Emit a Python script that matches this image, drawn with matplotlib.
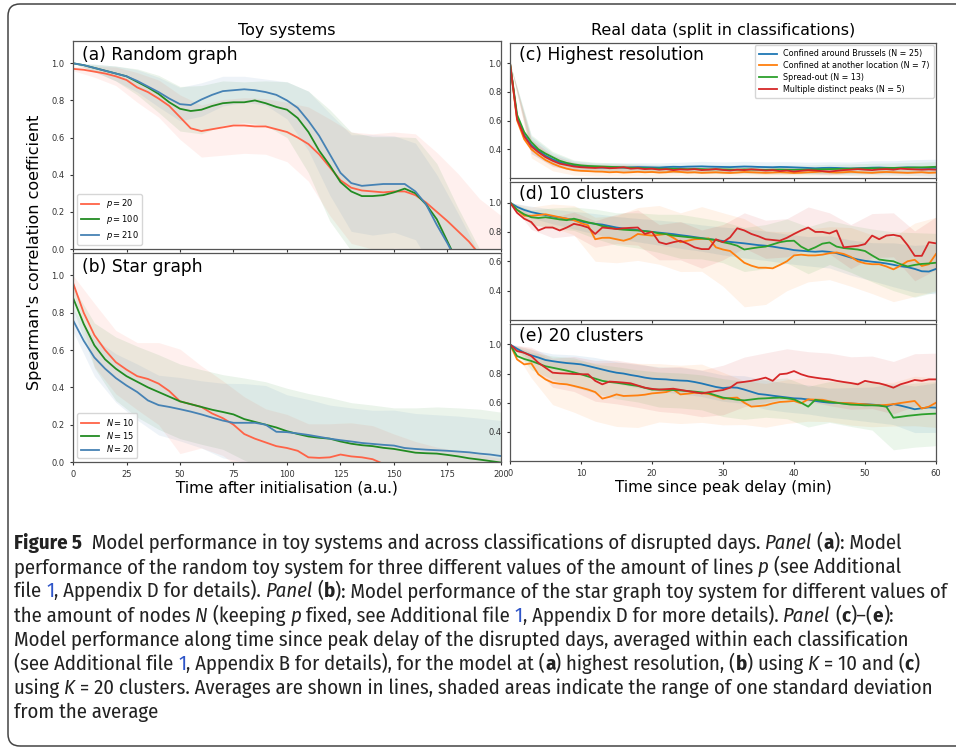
import numpy as np
import matplotlib
matplotlib.use('Agg')
import matplotlib.pyplot as plt
from matplotlib.patches import FancyBboxPatch
from matplotlib.transforms import IdentityTransform
from matplotlib import font_manager

# ---------------- data ----------------
# toy systems: time after initialisation, means every 5 a.u., std every 10 a.u.
t_toy = np.arange(0, 201, 5)
t_toy_sd = np.arange(0, 201, 10)

rand_labels = ['$p = 20$', '$p = 100$', '$p = 210$']
rand_p20 = [0.97, 0.965, 0.955, 0.945, 0.93, 0.91, 0.87, 0.845, 0.81, 0.77, 0.71, 0.65, 0.635, 0.645,
            0.655, 0.665, 0.665, 0.66, 0.66, 0.645, 0.63, 0.6, 0.565, 0.51, 0.44, 0.37, 0.33, 0.315,
            0.31, 0.305, 0.31, 0.31, 0.29, 0.25, 0.2, 0.15, 0.095, 0.04, -0.03, -0.07, -0.12]
rand_p100 = [1.0, 0.99, 0.975, 0.96, 0.945, 0.93, 0.9, 0.87, 0.835, 0.79, 0.755, 0.743, 0.75, 0.77,
             0.785, 0.79, 0.79, 0.8, 0.785, 0.765, 0.75, 0.705, 0.63, 0.53, 0.45, 0.36, 0.31, 0.285,
             0.285, 0.29, 0.305, 0.325, 0.3, 0.24, 0.16, 0.04, -0.08, -0.2, -0.3, -0.4, -0.5]
rand_p210 = [1.0, 0.99, 0.975, 0.96, 0.945, 0.93, 0.905, 0.875, 0.845, 0.81, 0.78, 0.775, 0.805, 0.83,
             0.85, 0.855, 0.86, 0.855, 0.845, 0.83, 0.8, 0.76, 0.69, 0.61, 0.51, 0.41, 0.355, 0.34,
             0.345, 0.35, 0.35, 0.35, 0.31, 0.24, 0.13, 0.03, -0.08, -0.2, -0.3, -0.4, -0.5]
rand_p20_sd = [0.01, 0.03, 0.05, 0.08, 0.1, 0.12, 0.14, 0.15, 0.15, 0.15, 0.16, 0.2, 0.26, 0.3, 0.31,
               0.32, 0.33, 0.32, 0.31, 0.3, 0.3]
rand_p100_sd = [0.0, 0.02, 0.04, 0.07, 0.1, 0.12, 0.13, 0.12, 0.11, 0.12, 0.15, 0.22, 0.3, 0.32, 0.32,
                0.3, 0.3, 0.3, 0.3, 0.3, 0.3]
rand_p210_sd = [0.0, 0.02, 0.04, 0.06, 0.08, 0.09, 0.09, 0.08, 0.07, 0.07, 0.1, 0.16, 0.22, 0.26, 0.27,
                0.26, 0.26, 0.27, 0.27, 0.27, 0.27]

star_labels = ['$N = 10$', '$N = 15$', '$N = 20$']
star_n10 = [0.96, 0.8, 0.68, 0.6, 0.535, 0.495, 0.46, 0.445, 0.42, 0.38, 0.325, 0.31, 0.295, 0.26,
            0.235, 0.2, 0.15, 0.125, 0.105, 0.085, 0.075, 0.06, 0.025, 0.022, 0.025, 0.04, 0.03, 0.025,
            0.015, -0.01, -0.03, -0.05, -0.07, -0.08, -0.1, -0.1, -0.12, -0.13, -0.14, -0.15, -0.16]
star_n15 = [0.88, 0.74, 0.625, 0.55, 0.5, 0.46, 0.43, 0.4, 0.375, 0.35, 0.325, 0.31, 0.295, 0.28,
            0.268, 0.255, 0.23, 0.215, 0.2, 0.185, 0.165, 0.15, 0.137, 0.13, 0.125, 0.11, 0.098, 0.09,
            0.085, 0.076, 0.07, 0.06, 0.05, 0.047, 0.045, 0.038, 0.03, 0.02, 0.013, 0.005, -0.003]
star_n20 = [0.76, 0.65, 0.56, 0.5, 0.45, 0.41, 0.375, 0.33, 0.305, 0.295, 0.283, 0.27, 0.255, 0.238,
            0.222, 0.21, 0.21, 0.21, 0.2, 0.162, 0.16, 0.153, 0.145, 0.135, 0.125, 0.117, 0.11, 0.102,
            0.097, 0.092, 0.088, 0.075, 0.07, 0.066, 0.063, 0.06, 0.056, 0.052, 0.045, 0.04, 0.032]
star_n10_sd = [0.04, 0.17, 0.17, 0.18, 0.22, 0.28, 0.22, 0.2, 0.2, 0.18, 0.18, 0.18, 0.18, 0.18, 0.18,
               0.18, 0.18, 0.18, 0.18, 0.18, 0.18]
star_n15_sd = [0.06, 0.12, 0.17, 0.19, 0.2, 0.2, 0.2, 0.2, 0.22, 0.23, 0.23, 0.23, 0.22, 0.22, 0.22,
               0.22, 0.24, 0.25, 0.26, 0.27, 0.27]
star_n20_sd = [0.06, 0.1, 0.13, 0.15, 0.16, 0.17, 0.18, 0.2, 0.21, 0.21, 0.2, 0.19, 0.18, 0.18, 0.18,
               0.19, 0.19, 0.19, 0.19, 0.19, 0.19]

# real data: time since peak delay, means every minute, std every 3 minutes
t_real = np.arange(0, 61)
t_real_sd = np.arange(0, 61, 3)
class_labels = ['Confined around Brussels (N = 25)', 'Confined at another location (N = 7)',
                'Spread-out (N = 13)', 'Multiple distinct peaks (N = 5)']

hr_brussels = [1.0, 0.62, 0.5, 0.43, 0.39, 0.355, 0.33, 0.31, 0.295, 0.285, 0.28, 0.277, 0.275, 0.272,
               0.273, 0.275, 0.272, 0.274, 0.276, 0.275, 0.274, 0.273, 0.276, 0.278, 0.277, 0.279, 0.28,
               0.281, 0.279, 0.278, 0.277, 0.276, 0.278, 0.28, 0.279, 0.277, 0.276, 0.275, 0.277, 0.276,
               0.274, 0.272, 0.27, 0.268, 0.27, 0.271, 0.27, 0.268, 0.266, 0.268, 0.27, 0.272, 0.273,
               0.271, 0.27, 0.272, 0.274, 0.273, 0.271, 0.27, 0.271]
hr_other = [1.0, 0.6, 0.47, 0.4, 0.36, 0.325, 0.3, 0.28, 0.265, 0.255, 0.25, 0.248, 0.245, 0.244, 0.24,
            0.242, 0.238, 0.24, 0.243, 0.24, 0.242, 0.238, 0.24, 0.245, 0.242, 0.238, 0.24, 0.236, 0.238,
            0.24, 0.237, 0.235, 0.238, 0.242, 0.24, 0.238, 0.236, 0.238, 0.24, 0.238, 0.235, 0.237, 0.24,
            0.242, 0.245, 0.24, 0.238, 0.24, 0.243, 0.24, 0.238, 0.236, 0.24, 0.242, 0.24, 0.238, 0.236,
            0.238, 0.24, 0.236, 0.238]
hr_spread = [1.0, 0.64, 0.52, 0.45, 0.4, 0.37, 0.345, 0.32, 0.305, 0.295, 0.288, 0.284, 0.282, 0.28,
             0.278, 0.276, 0.274, 0.272, 0.27, 0.268, 0.266, 0.265, 0.264, 0.265, 0.263, 0.262, 0.263,
             0.262, 0.26, 0.261, 0.26, 0.259, 0.258, 0.26, 0.259, 0.258, 0.257, 0.258, 0.259, 0.258,
             0.257, 0.258, 0.259, 0.26, 0.261, 0.262, 0.263, 0.264, 0.265, 0.266, 0.267, 0.268, 0.268,
             0.269, 0.27, 0.271, 0.272, 0.273, 0.274, 0.276, 0.278]
hr_multi = [1.0, 0.61, 0.49, 0.42, 0.38, 0.345, 0.32, 0.3, 0.29, 0.28, 0.275, 0.272, 0.27, 0.274, 0.268,
            0.27, 0.275, 0.265, 0.268, 0.262, 0.265, 0.258, 0.262, 0.255, 0.26, 0.258, 0.262, 0.255,
            0.258, 0.262, 0.256, 0.252, 0.258, 0.255, 0.26, 0.257, 0.252, 0.255, 0.248, 0.252, 0.245,
            0.25, 0.255, 0.252, 0.248, 0.245, 0.25, 0.255, 0.258, 0.262, 0.258, 0.255, 0.26, 0.262, 0.258,
            0.265, 0.262, 0.26, 0.258, 0.26, 0.258]
hr_brussels_sd = [0.0, 0.06, 0.045, 0.035, 0.03, 0.03, 0.03, 0.032, 0.033, 0.035, 0.035, 0.036, 0.037,
                  0.038, 0.04, 0.042, 0.045, 0.048, 0.05, 0.055, 0.06]
hr_other_sd = [0.0, 0.06, 0.05, 0.035, 0.03, 0.028, 0.027, 0.026, 0.025, 0.025, 0.025, 0.026, 0.025,
               0.025, 0.026, 0.025, 0.025, 0.026, 0.026, 0.025, 0.025]
hr_spread_sd = [0.0, 0.05, 0.04, 0.03, 0.028, 0.028, 0.027, 0.027, 0.028, 0.028, 0.03, 0.03, 0.03, 0.031,
                0.032, 0.033, 0.033, 0.034, 0.035, 0.035, 0.036]
hr_multi_sd = [0.0, 0.05, 0.04, 0.03, 0.025, 0.024, 0.023, 0.022, 0.022, 0.023, 0.022, 0.022, 0.023,
               0.024, 0.023, 0.022, 0.023, 0.023, 0.024, 0.024, 0.024]

k10_brussels = [1.0, 0.97, 0.95, 0.935, 0.925, 0.915, 0.905, 0.898, 0.89, 0.88, 0.87, 0.862, 0.855, 0.85,
                0.84, 0.83, 0.823, 0.818, 0.812, 0.806, 0.8, 0.795, 0.79, 0.785, 0.778, 0.772, 0.765,
                0.758, 0.752, 0.745, 0.738, 0.732, 0.727, 0.722, 0.716, 0.71, 0.706, 0.7, 0.692, 0.685,
                0.676, 0.672, 0.668, 0.665, 0.668, 0.664, 0.655, 0.64, 0.625, 0.612, 0.603, 0.597, 0.592,
                0.585, 0.576, 0.566, 0.56, 0.548, 0.532, 0.53, 0.548]
k10_other = [1.0, 0.95, 0.91, 0.91, 0.915, 0.92, 0.91, 0.9, 0.89, 0.88, 0.86, 0.845, 0.75, 0.76, 0.76,
             0.75, 0.74, 0.755, 0.786, 0.78, 0.775, 0.78, 0.786, 0.76, 0.73, 0.74, 0.75, 0.752, 0.756,
             0.695, 0.68, 0.67, 0.63, 0.59, 0.57, 0.556, 0.556, 0.552, 0.575, 0.6, 0.64, 0.645, 0.64,
             0.64, 0.645, 0.655, 0.66, 0.65, 0.63, 0.6, 0.586, 0.58, 0.58, 0.565, 0.545, 0.57, 0.6, 0.61,
             0.568, 0.58, 0.65]
k10_spread = [1.0, 0.95, 0.92, 0.9, 0.895, 0.9, 0.893, 0.885, 0.88, 0.89, 0.878, 0.865, 0.855, 0.84,
              0.83, 0.82, 0.815, 0.812, 0.81, 0.805, 0.8, 0.79, 0.785, 0.775, 0.77, 0.765, 0.76, 0.756,
              0.75, 0.745, 0.73, 0.72, 0.706, 0.68, 0.688, 0.695, 0.7, 0.715, 0.73, 0.738, 0.74, 0.7,
              0.675, 0.695, 0.72, 0.728, 0.7, 0.69, 0.685, 0.68, 0.67, 0.64, 0.612, 0.605, 0.6, 0.58,
              0.565, 0.575, 0.582, 0.585, 0.59]
k10_multi = [1.0, 0.93, 0.89, 0.867, 0.81, 0.83, 0.83, 0.81, 0.83, 0.855, 0.845, 0.83, 0.786, 0.83, 0.825,
             0.82, 0.825, 0.828, 0.83, 0.786, 0.8, 0.73, 0.717, 0.73, 0.74, 0.72, 0.695, 0.683, 0.683,
             0.75, 0.73, 0.763, 0.825, 0.81, 0.786, 0.77, 0.75, 0.745, 0.74, 0.76, 0.786, 0.81, 0.83, 0.8,
             0.8, 0.79, 0.81, 0.695, 0.7, 0.705, 0.717, 0.775, 0.75, 0.775, 0.78, 0.77, 0.71, 0.637,
             0.637, 0.73, 0.722]
k10_brussels_sd = [0.0, 0.04, 0.05, 0.06, 0.07, 0.075, 0.08, 0.085, 0.09, 0.09, 0.095, 0.1, 0.1, 0.1,
                   0.1, 0.11, 0.12, 0.13, 0.15, 0.16, 0.17]
k10_other_sd = [0.0, 0.06, 0.08, 0.1, 0.15, 0.16, 0.18, 0.2, 0.2, 0.22, 0.25, 0.3, 0.25, 0.2, 0.18,
                0.18, 0.2, 0.2, 0.22, 0.25, 0.25]
k10_spread_sd = [0.0, 0.05, 0.07, 0.08, 0.1, 0.11, 0.12, 0.13, 0.15, 0.14, 0.14, 0.15, 0.15, 0.15, 0.16,
                 0.15, 0.16, 0.18, 0.2, 0.22, 0.2]
k10_multi_sd = [0.0, 0.05, 0.07, 0.08, 0.09, 0.1, 0.12, 0.12, 0.13, 0.13, 0.12, 0.12, 0.13, 0.13, 0.14,
                0.14, 0.15, 0.15, 0.15, 0.17, 0.18]

k20_brussels = [1.0, 0.97, 0.943, 0.925, 0.91, 0.893, 0.885, 0.878, 0.872, 0.868, 0.863, 0.852, 0.84,
                0.828, 0.816, 0.806, 0.8, 0.79, 0.782, 0.772, 0.765, 0.762, 0.76, 0.755, 0.752, 0.75,
                0.742, 0.732, 0.72, 0.708, 0.7, 0.705, 0.703, 0.69, 0.675, 0.66, 0.655, 0.648, 0.642,
                0.636, 0.63, 0.628, 0.622, 0.612, 0.605, 0.6, 0.598, 0.596, 0.594, 0.592, 0.59, 0.587,
                0.583, 0.574, 0.59, 0.58, 0.568, 0.555, 0.562, 0.568, 0.566]
k20_other = [1.0, 0.897, 0.863, 0.87, 0.795, 0.76, 0.737, 0.73, 0.726, 0.715, 0.703, 0.69, 0.673, 0.628,
             0.64, 0.657, 0.646, 0.648, 0.65, 0.655, 0.664, 0.668, 0.673, 0.69, 0.657, 0.662, 0.668, 0.665,
             0.66, 0.645, 0.628, 0.632, 0.635, 0.6, 0.573, 0.577, 0.582, 0.595, 0.605, 0.608, 0.612, 0.596,
             0.623, 0.621, 0.62, 0.61, 0.6, 0.598, 0.596, 0.592, 0.589, 0.585, 0.582, 0.585, 0.59, 0.598,
             0.605, 0.612, 0.56, 0.573, 0.6]
k20_spread = [1.0, 0.92, 0.9, 0.886, 0.868, 0.85, 0.84, 0.83, 0.82, 0.808, 0.795, 0.78, 0.765, 0.75,
              0.742, 0.737, 0.73, 0.722, 0.715, 0.702, 0.69, 0.69, 0.688, 0.687, 0.684, 0.68, 0.676,
              0.671, 0.665, 0.65, 0.635, 0.628, 0.62, 0.616, 0.622, 0.628, 0.63, 0.633, 0.635, 0.63,
              0.623, 0.6, 0.573, 0.62, 0.612, 0.605, 0.6, 0.593, 0.587, 0.585, 0.582, 0.582, 0.58, 0.573,
              0.497, 0.503, 0.51, 0.515, 0.52, 0.523, 0.525]
k20_multi = [1.0, 0.954, 0.943, 0.92, 0.874, 0.84, 0.806, 0.802, 0.8, 0.797, 0.795, 0.795, 0.75, 0.726,
             0.745, 0.742, 0.738, 0.733, 0.718, 0.703, 0.695, 0.69, 0.693, 0.696, 0.688, 0.68, 0.672,
             0.664, 0.672, 0.68, 0.687, 0.703, 0.737, 0.743, 0.75, 0.76, 0.772, 0.75, 0.795, 0.8, 0.817,
             0.795, 0.78, 0.772, 0.765, 0.76, 0.75, 0.742, 0.735, 0.726, 0.75, 0.74, 0.733, 0.72, 0.703,
             0.726, 0.74, 0.756, 0.75, 0.76, 0.76]
k20_brussels_sd = [0.0, 0.04, 0.05, 0.06, 0.07, 0.075, 0.08, 0.085, 0.09, 0.09, 0.09, 0.095, 0.1, 0.1,
                   0.1, 0.1, 0.11, 0.12, 0.14, 0.16, 0.17]
k20_other_sd = [0.0, 0.1, 0.15, 0.18, 0.2, 0.22, 0.22, 0.2, 0.2, 0.2, 0.18, 0.15, 0.15, 0.15, 0.15, 0.14,
                0.15, 0.15, 0.15, 0.17, 0.17]
k20_spread_sd = [0.0, 0.06, 0.08, 0.1, 0.1, 0.11, 0.11, 0.12, 0.12, 0.12, 0.13, 0.13, 0.13, 0.14, 0.14,
                 0.14, 0.15, 0.17, 0.22, 0.22, 0.22]
k20_multi_sd = [0.0, 0.06, 0.1, 0.12, 0.14, 0.15, 0.15, 0.15, 0.16, 0.16, 0.17, 0.17, 0.17, 0.17, 0.17,
                0.18, 0.18, 0.18, 0.18, 0.18, 0.18]

# ---------------- style ----------------
toy_colors = ['tomato', 'forestgreen', 'steelblue']
real_colors = ['tab:blue', 'tab:orange', 'tab:green', 'tab:red']

plt.rcParams['font.family'] = 'DejaVu Sans'
plt.rcParams['xtick.labelsize'] = 6
plt.rcParams['ytick.labelsize'] = 6
plt.rcParams['xtick.color'] = '#333333'
plt.rcParams['ytick.color'] = '#333333'
plt.rcParams['xtick.major.size'] = 2.5
plt.rcParams['ytick.major.size'] = 2.5
plt.rcParams['axes.edgecolor'] = '#555555'
plt.rcParams['axes.linewidth'] = 0.9

W, H = 956, 750
fig = plt.figure(figsize=(W / 100, H / 100), dpi=100)


def ax_px(left, top, right, bottom):
    # axes box given in pixels of the final picture
    return fig.add_axes([left / W, 1 - bottom / H, (right - left) / W, (bottom - top) / H])


def draw_series(ax, t, t_sd, means, sds, colors, labels):
    step = int(t_sd[1] - t_sd[0]) // int(t[1] - t[0])
    for m, s, c in zip(means, sds, colors):
        m = np.array(m)
        s = np.array(s)
        ax.fill_between(t_sd, m[::step] - s, m[::step] + s, color=c, alpha=0.09, lw=0)
    for m, c, lab in zip(means, colors, labels):
        ax.plot(t, m, color=c, lw=1.3, label=lab)


def panel_label(ax, txt):
    ax.text(0.022, 0.975, txt, transform=ax.transAxes, fontsize=12.3, va='top', ha='left')


# (a) random graph
ax_a = ax_px(73, 41, 501, 249)
draw_series(ax_a, t_toy, t_toy_sd, [rand_p20, rand_p100, rand_p210],
            [rand_p20_sd, rand_p100_sd, rand_p210_sd], toy_colors, rand_labels)
ax_a.set_xlim(0, 200)
ax_a.set_ylim(0, 1.12)
ax_a.set_xticks(np.arange(0, 201, 25))
ax_a.tick_params(labelbottom=False)
ax_a.set_yticks([0, 0.2, 0.4, 0.6, 0.8, 1.0])
ax_a.legend(loc='lower left', fontsize=6, handlelength=2.2, borderpad=0.4, labelspacing=0.3)
panel_label(ax_a, '(a) Random graph')

# (b) star graph
ax_b = ax_px(73, 253, 501, 462)
draw_series(ax_b, t_toy, t_toy_sd, [star_n10, star_n15, star_n20],
            [star_n10_sd, star_n15_sd, star_n20_sd], toy_colors, star_labels)
ax_b.set_xlim(0, 200)
ax_b.set_ylim(0, 1.12)
ax_b.set_xticks(np.arange(0, 201, 25))
ax_b.set_yticks([0, 0.2, 0.4, 0.6, 0.8, 1.0])
ax_b.legend(loc='lower left', fontsize=6, handlelength=2.2, borderpad=0.4, labelspacing=0.3)
panel_label(ax_b, '(b) Star graph')

# (c)-(e) real data
real_sets = [
    ('(c) Highest resolution', (43, 178), [hr_brussels, hr_other, hr_spread, hr_multi],
     [hr_brussels_sd, hr_other_sd, hr_spread_sd, hr_multi_sd]),
    ('(d) 10 clusters', (182, 320), [k10_brussels, k10_other, k10_spread, k10_multi],
     [k10_brussels_sd, k10_other_sd, k10_spread_sd, k10_multi_sd]),
    ('(e) 20 clusters', (324, 461), [k20_brussels, k20_other, k20_spread, k20_multi],
     [k20_brussels_sd, k20_other_sd, k20_spread_sd, k20_multi_sd]),
]
real_axes = []
for i, (name, (top, bottom), means, sds) in enumerate(real_sets):
    ax = ax_px(510, top, 936, bottom)
    draw_series(ax, t_real, t_real_sd, means, sds, real_colors, class_labels)
    ax.set_xlim(0, 60)
    ax.set_ylim(0.2, 1.14)
    ax.set_yticks([0.4, 0.6, 0.8, 1.0])
    ax.set_xticks(np.arange(0, 61, 10))
    if i < 2:
        ax.tick_params(labelbottom=False)
    panel_label(ax, name)
    real_axes.append(ax)
real_axes[0].legend(loc='upper right', fontsize=5.8, handlelength=2.2, borderpad=0.5,
                    labelspacing=0.35, borderaxespad=0.3)

# column titles and axis labels
fig.text(287 / W, 1 - 30 / H, 'Toy systems', fontsize=11.5, ha='center', va='center')
fig.text(723 / W, 1 - 30 / H, 'Real data (split in classifications)', fontsize=11.5, ha='center', va='center')
fig.text(35 / W, 1 - 252 / H, "Spearman's correlation coefficient", fontsize=11.5, rotation=90,
         ha='center', va='center')
fig.text(287 / W, 1 - 488 / H, 'Time after initialisation (a.u.)', fontsize=11, ha='center', va='center')
fig.text(723 / W, 1 - 488 / H, 'Time since peak delay (min)', fontsize=11, ha='center', va='center')

# outer frame with rounded corners
frame = FancyBboxPatch((8, 4), 990, 742, boxstyle='round,pad=0,rounding_size=12',
                       transform=IdentityTransform(), fill=False, ec='#444444', lw=1.1)
fig.patches.append(frame)

# ---------------- caption ----------------
names = {f.name for f in font_manager.fontManager.ttflist}
cap_font = 'Liberation Sans'
for cand in ['Fira Sans Condensed', 'PT Sans Narrow', 'Roboto Condensed', 'Liberation Sans Narrow']:
    if cand in names:
        cap_font = cand
        break
styles = {'n': {}, 'b': {'weight': 'bold'}, 'i': {'style': 'italic'}, 'l': {'color': '#2f55c8'}}

caption = [
    [('Figure 5', 'b'), ('  Model performance in toy systems and across classifications of disrupted days. ', 'n'),
     ('Panel', 'i'), (' (', 'n'), ('a', 'b'), ('): Model', 'n')],
    [('performance of the random toy system for three different values of the amount of lines ', 'n'),
     ('p', 'i'), (' (see Additional', 'n')],
    [('file ', 'n'), ('1', 'l'), (', Appendix D for details). ', 'n'), ('Panel', 'i'), (' (', 'n'), ('b', 'b'),
     ('): Model performance of the star graph toy system for different values of', 'n')],
    [('the amount of nodes ', 'n'), ('N', 'i'), (' (keeping ', 'n'), ('p', 'i'),
     (' fixed, see Additional file ', 'n'), ('1', 'l'), (', Appendix D for more details). ', 'n'),
     ('Panel', 'i'), (' (', 'n'), ('c', 'b'), (')\u2013(', 'n'), ('e', 'b'), ('):', 'n')],
    [('Model performance along time since peak delay of the disrupted days, averaged within each classification', 'n')],
    [('(see Additional file ', 'n'), ('1', 'l'), (', Appendix B for details), for the model at (', 'n'),
     ('a', 'b'), (') highest resolution, (', 'n'), ('b', 'b'), (') using ', 'n'), ('K', 'i'),
     (' = 10 and (', 'n'), ('c', 'b'), (')', 'n')],
    [('using ', 'n'), ('K', 'i'),
     (' = 20 clusters. Averages are shown in lines, shaded areas indicate the range of one standard deviation', 'n')],
    [('from the average', 'n')],
]

renderer = fig.canvas.get_renderer()


def run_width(s, size, kind):
    tmp = fig.text(0, 0, s + '|', fontsize=size, family=cap_font, **styles[kind])
    w1 = tmp.get_window_extent(renderer).width
    tmp.set_text('|')
    w2 = tmp.get_window_extent(renderer).width
    tmp.remove()
    return w1 - w2


# size the caption so the longest line spans the same width as in the reference
w_line3 = sum(run_width(s, 10, k) for s, k in caption[2])
cap_size = 10 * 936 / w_line3

x0, y0, dy = 14, 549, 24.2
for j, line in enumerate(caption):
    x = x0
    for s, k in line:
        fig.text(x / W, 1 - (y0 + j * dy) / H, s, fontsize=cap_size, family=cap_font,
                 va='baseline', ha='left', color=styles[k].get('color', '#222222'),
                 **{kk: v for kk, v in styles[k].items() if kk != 'color'})
        x += run_width(s, cap_size, k)

fig.savefig('out.png', dpi=100)
